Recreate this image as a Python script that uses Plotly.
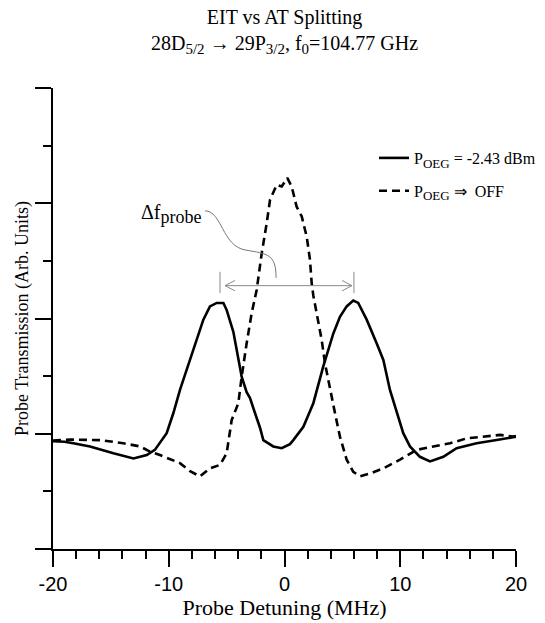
import plotly.graph_objects as go

# ---- data ----
det_on = [-20.0, -19.0, -18.25, -16.8, -14.78, -13.05, -11.9, -11.2, -10.18, -9.6, -9.03,
          -8.16, -7.59, -7.01, -6.44, -5.86, -5.28, -5.0, -4.42, -3.99, -3.7, -3.27, -2.98,
          -2.55, -2.11, -1.83, -1.25, -0.97, -0.24, 0.47, 0.76, 1.63, 2.49, 3.35, 4.22, 4.79,
          5.37, 5.94, 6.37, 7.1, 7.96, 8.54, 9.11, 9.69, 10.26, 10.84, 11.7, 12.57, 13.72,
          14.87, 16.6, 18.33, 19.77, 20.0]
trans_on = [1.87, 1.86, 1.835, 1.78, 1.66, 1.57, 1.63, 1.72, 2.01, 2.36, 2.76,
            3.28, 3.63, 3.98, 4.21, 4.27, 4.27, 4.15, 3.77, 3.30, 2.99, 2.72, 2.62,
            2.36, 2.10, 1.89, 1.82, 1.78, 1.75, 1.82, 1.89, 2.12, 2.53, 3.17, 3.74, 4.03,
            4.21, 4.31, 4.27, 3.98, 3.57, 3.28, 2.76, 2.36, 2.01, 1.78, 1.60, 1.52, 1.60,
            1.75, 1.835, 1.89, 1.94, 1.95]

det_off = [-20.0, -18.5, -15.94, -13.92, -12.48, -11.62, -10.76, -9.03, -8.16, -7.3, -6.44,
           -5.57, -5.0, -4.56, -3.99, -3.7, -3.27, -2.84, -2.4, -1.97, -1.54, -1.25, -0.67,
           -0.24, 0.24, 0.62, 1.05, 1.49, 1.92, 2.2, 2.35, 2.49, 2.78, 3.21, 3.5, 3.93, 4.36,
           4.79, 5.37, 5.94, 6.52, 7.39, 8.54, 9.98, 11.42, 12.86, 14.3, 15.74, 17.18, 18.62,
           19.77, 20.0]
trans_off = [1.88, 1.90, 1.89, 1.835, 1.78, 1.69, 1.63, 1.49, 1.35, 1.26, 1.40,
             1.46, 1.66, 2.24, 2.53, 2.99, 3.57, 4.09, 4.50, 5.13, 5.65, 6.06, 6.32,
             6.29, 6.44, 6.29, 5.94, 5.77, 5.42, 5.02, 4.61, 4.40, 4.09, 3.63, 3.22, 2.76, 2.36,
             1.95, 1.55, 1.34, 1.26, 1.31, 1.40, 1.55, 1.72, 1.78, 1.835, 1.92, 1.95, 1.98,
             1.95, 1.96]

x_ticks = [-20, -10, 0, 10, 20]
x_tick_labels = ["-20", "-10", "0", "10", "20"]

# AT-splitting marker positions (peak centres) and annotation level
split_peaks = [-5.57, 6.0]
arrow_tips = [-5.14, 5.83]
arrow_level = 4.57

SERIF = "Liberation Serif"
SANS = "Liberation Sans"
GRAY = "#8a8a8a"
SUB = "<sub><span style='font-size:13px'>{}</span></sub>"

fig = go.Figure()
fig.add_trace(go.Scatter(
    x=det_on, y=trans_on, mode="lines",
    line=dict(color="black", width=2.6),
    name="P" + SUB.format("OEG") + " = -2.43 dBm", legendgroup="a"))
fig.add_trace(go.Scatter(
    x=det_off, y=trans_off, mode="lines",
    line=dict(color="black", width=2.6, dash="8px,5px"),
    name="P" + SUB.format("OEG") + " \u21D2  OFF", legendgroup="b"))

shapes = []
# double-headed arrow
shapes.append(dict(type="line", xref="x", yref="y", x0=arrow_tips[0], x1=arrow_tips[1],
                   y0=arrow_level, y1=arrow_level, line=dict(color=GRAY, width=1)))
hx, hy = 0.86, 0.09
for tip, sgn in ((arrow_tips[0], 1), (arrow_tips[1], -1)):
    for dy in (hy, -hy):
        shapes.append(dict(type="line", xref="x", yref="y", x0=tip, y0=arrow_level,
                           x1=tip + sgn * hx, y1=arrow_level + dy,
                           line=dict(color=GRAY, width=1)))
for px in split_peaks:
    shapes.append(dict(type="line", xref="x", yref="y", x0=px, x1=px,
                       y0=4.44, y1=4.81, line=dict(color=GRAY, width=1)))
# leader curve from label to arrow
shapes.append(dict(type="path", xref="x", yref="y",
                   path="M -6.87,5.868 C -5.40,5.868 -5.40,5.26 -3.41,5.19 "
                        "C -1.43,5.12 -0.73,5.12 -0.73,4.705",
                   line=dict(color="#777777", width=1)))

TSUB = "<sub><span style='font-size:15px'>{}</span></sub>"
annotations = [
    dict(xref="x", yref="y", x=-6.95, y=5.82, xanchor="right", yanchor="middle",
         text="\u0394f<sub><span style='font-size:18px'>probe</span></sub>",
         showarrow=False, font=dict(family=SERIF, size=20, color="black")),
    dict(xref="paper", yref="paper", x=0.5, y=1 + (88 - 4) / 461,
         xanchor="center", yanchor="top", showarrow=False,
         text="EIT vs AT Splitting<br>28D" + TSUB.format("5/2") + " \u2192 29P"
              + TSUB.format("3/2") + ", f" + TSUB.format("0") + "=104.77 GHz",
         font=dict(family=SERIF, size=20, color="black")),
]

fig.update_layout(
    width=545, height=623,
    margin=dict(l=53, r=29, t=88, b=74, autoexpand=False),
    paper_bgcolor="white", plot_bgcolor="white",
    showlegend=True,
    legend=dict(x=(374 - 53) / 463, xref="paper", xanchor="left",
                y=1 - (141 - 88) / 461, yref="paper", yanchor="top",
                font=dict(family=SERIF, size=16, color="black"),
                bgcolor="rgba(0,0,0,0)", tracegroupgap=9, itemwidth=30),
    shapes=shapes, annotations=annotations,
)

fig.update_xaxes(
    range=[-20, 20], tickvals=x_ticks, ticktext=x_tick_labels, automargin=False,
    ticks="outside", ticklen=16, tickwidth=2, tickcolor="black",
    showline=True, linewidth=2, linecolor="black",
    showgrid=False, zeroline=False,
    minor=dict(dtick=2, tick0=-20, ticks="outside", ticklen=8, tickwidth=2, tickcolor="black"),
    tickfont=dict(family=SANS, size=20, color="black"),
    title=dict(text="Probe Detuning (MHz)", font=dict(family=SERIF, size=22, color="black"),
               standoff=2),
)
fig.update_yaxes(
    range=[0, 8], dtick=2, tick0=0, showticklabels=False, automargin=False,
    ticks="outside", ticklen=16, tickwidth=2, tickcolor="black",
    showline=True, linewidth=2, linecolor="black",
    showgrid=False, zeroline=False,
    minor=dict(dtick=1, ticks="outside", ticklen=8, tickwidth=2, tickcolor="black"),
    title=dict(text="Probe Transmission (Arb. Units)",
               font=dict(family=SERIF, size=18, color="black"), standoff=2),
)

fig.write_html("out.html")
